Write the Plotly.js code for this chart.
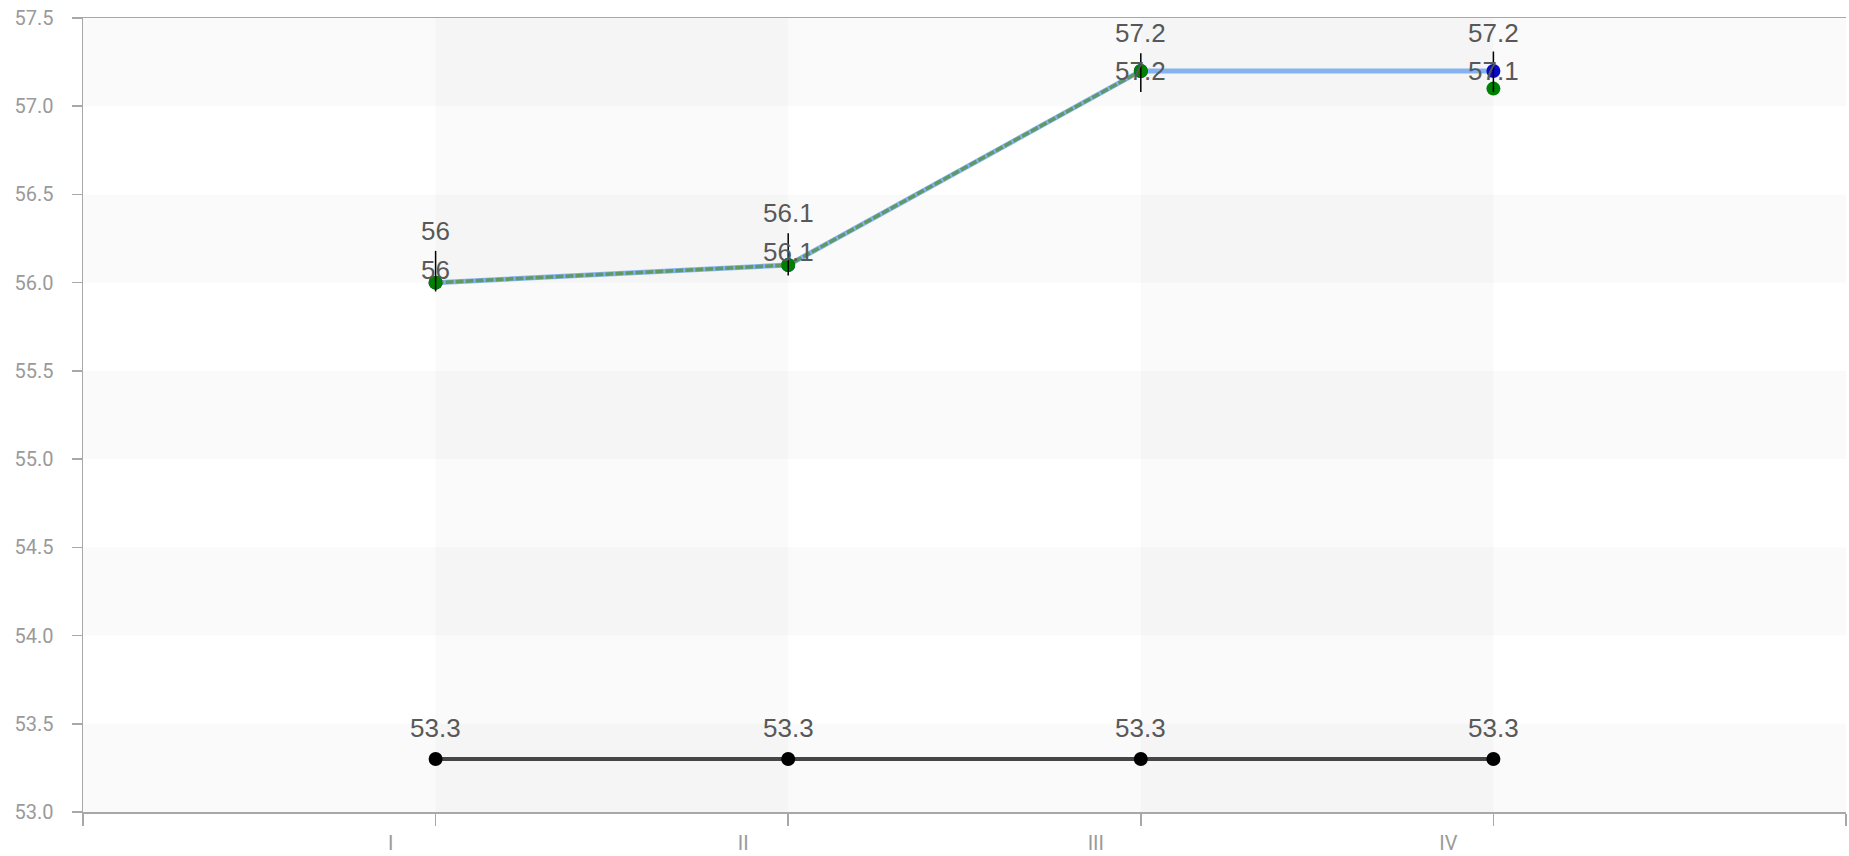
<!DOCTYPE html>
<html>
<head>
<meta charset="utf-8">
<script src="https://cdn.plot.ly/plotly-3.0.1.min.js"></script>
<style>
  html, body { margin: 0; padding: 0; background: #ffffff; }
  #chart { width: 1849px; height: 856px; }
</style>
</head>
<body>
<div id="chart"></div>
<script>
// ---- data ----
const categories = ['I', 'II', 'III', 'IV'];
const blueValues = [56, 56.1, 57.2, 57.2];
const greenValues = [56, 56.1, 57.2, 57.1];
const greenLineCount = 3; // green line joins only the first three points
const blackValues = [53.3, 53.3, 53.3, 53.3];
const errPlus = [0.18, 0.18, 0.10, 0.11];
const errMinus = [0.05, 0.06, 0.12, 0.12];
const yTickValues = [53, 53.5, 54, 54.5, 55, 55.5, 56, 56.5, 57, 57.5];

// ---- style ----
const xIdx = categories.map((c, i) => i);
const labelFont = { family: 'Liberation Sans, Arial, sans-serif', size: 26, color: '#585858' };
const tickFont = { family: 'Roboto, sans-serif', size: 20, color: '#9a9a9a' };
const yMin = 53, yMax = 57.5;
const plotTop = 18, plotBottom = 812;
const pxPerUnit = (plotBottom - plotTop) / (yMax - yMin);
const greenShift = [13, 13, 0, 18];

const traces = [
  {
    x: xIdx, y: blueValues, type: 'scatter', mode: 'lines+markers',
    line: { color: '#86b3ef', width: 5 },
    marker: { color: '#0a0ac8', size: 14 },
    hoverinfo: 'none', showlegend: false
  },
  {
    x: xIdx.slice(0, greenLineCount), y: greenValues.slice(0, greenLineCount),
    type: 'scatter', mode: 'lines',
    line: { color: '#5f9966', width: 3.5, dash: '8px,2px' },
    hoverinfo: 'none', showlegend: false
  },
  {
    x: xIdx, y: greenValues, type: 'scatter', mode: 'markers',
    marker: { color: '#008000', size: 14 },
    hoverinfo: 'none', showlegend: false
  },
  {
    x: xIdx, y: blueValues, type: 'scatter', mode: 'markers',
    marker: { size: 1, opacity: 0 },
    error_y: { type: 'data', symmetric: false, array: errPlus, arrayminus: errMinus,
               color: '#000000', thickness: 1.5, width: 0 },
    hoverinfo: 'none', showlegend: false
  },
  {
    x: xIdx, y: blackValues, type: 'scatter', mode: 'lines+markers',
    line: { color: '#454545', width: 4 },
    marker: { color: '#000000', size: 14 },
    hoverinfo: 'none', showlegend: false
  }
];

const annotations = [];
function addLabels(values, shiftFn) {
  values.forEach((v, i) => {
    annotations.push({
      x: xIdx[i], y: v, xref: 'x', yref: 'y', text: String(v),
      showarrow: false, xanchor: 'center', yanchor: 'middle',
      yshift: shiftFn(v, i), font: labelFont
    });
  });
}
addLabels(blueValues, (v) => Math.min(52, (yMax - v) * pxPerUnit - 15));
addLabels(greenValues, (v, i) => greenShift[i]);
addLabels(blackValues, () => 31);

const shapes = [];
for (let y = yMin; y < yMax; y += 1) {
  shapes.push({ type: 'rect', xref: 'paper', yref: 'y', x0: 0, x1: 1, y0: y, y1: y + 0.5,
                fillcolor: 'rgba(0,0,0,0.02)', line: { width: 0 }, layer: 'below' });
}
for (let i = 0; i < categories.length - 1; i += 2) {
  shapes.push({ type: 'rect', xref: 'x', yref: 'paper', x0: xIdx[i], x1: xIdx[i + 1], y0: 0, y1: 1,
                fillcolor: 'rgba(0,0,0,0.02)', line: { width: 0 }, layer: 'below' });
}

const layout = {
  width: 1849, height: 856,
  margin: { l: 83, r: 3, t: 18, b: 44 },
  paper_bgcolor: '#ffffff', plot_bgcolor: '#ffffff',
  showlegend: false,
  xaxis: {
    range: [-1, categories.length],
    tickmode: 'array',
    tickvals: [-1].concat(xIdx, [categories.length]),
    ticktext: [''].concat(categories, ['']),
    showgrid: false, zeroline: false,
    showline: true, linecolor: '#a8a8a8', linewidth: 1.5, mirror: true,
    ticks: 'outside', ticklen: 12, tickwidth: 1.5, tickcolor: '#a8a8a8',
    tickfont: tickFont,
    ticklabelshift: -45
  },
  yaxis: {
    range: [yMin, yMax],
    tickmode: 'array', tickvals: yTickValues,
    ticktext: yTickValues.map(v => v.toFixed(1)),
    showgrid: false, zeroline: false,
    showline: true, linecolor: '#a8a8a8', linewidth: 1.5,
    ticks: 'outside', ticklen: 10, tickwidth: 1.5, tickcolor: '#a8a8a8',
    tickfont: tickFont,
    ticklabelstandoff: 14
  },
  shapes: shapes,
  annotations: annotations
};

Plotly.newPlot('chart', traces, layout, { displayModeBar: false, staticPlot: true });
</script>
</body>
</html>
